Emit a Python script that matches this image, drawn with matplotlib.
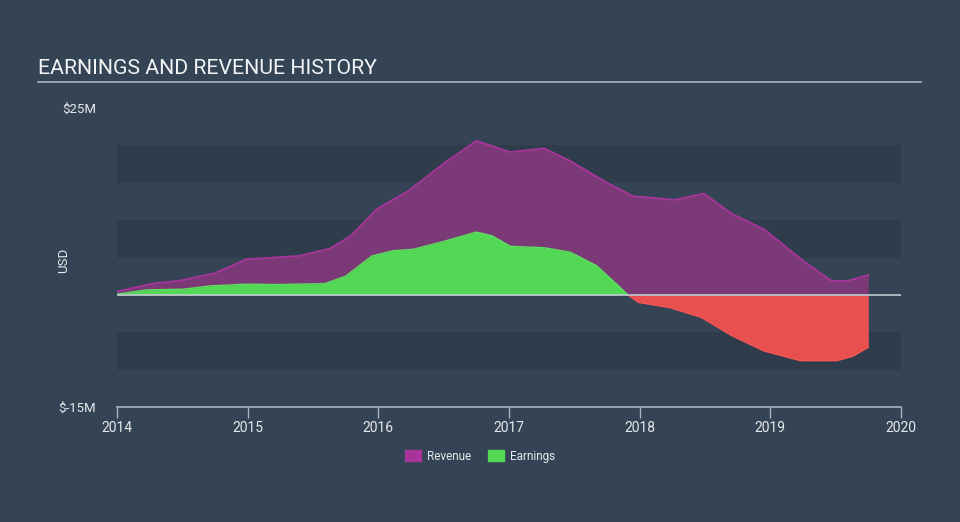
import matplotlib
matplotlib.use("Agg")
import matplotlib.pyplot as plt
import numpy as np
from matplotlib.patches import Patch

plt.rcParams['font.family'] = ['Roboto', 'DejaVu Sans']

# revenue, $M
rev_t = [2014.0, 2014.29, 2014.47, 2014.75, 2014.99, 2015.39, 2015.63, 2015.79, 2015.99,
         2016.23, 2016.51, 2016.75, 2017.01, 2017.27, 2017.47, 2017.75, 2017.95, 2018.27,
         2018.49, 2018.71, 2018.95, 2019.27, 2019.47, 2019.59, 2019.75]
rev_v = [0.45, 1.56, 1.87, 2.9, 4.77, 5.2, 6.2, 7.9, 11.5,
         13.9, 17.7, 20.6, 19.1, 19.6, 17.9, 15.0, 13.2, 12.7,
         13.55, 10.8, 8.8, 4.3, 1.87, 1.87, 2.67]

# earnings, $M
earn_t = [2014.0, 2014.23, 2014.51, 2014.71, 2014.99, 2015.23, 2015.59, 2015.75, 2015.95,
          2016.11, 2016.27, 2016.51, 2016.75, 2016.87, 2017.01, 2017.27, 2017.47, 2017.67,
          2017.81, 2017.91, 2017.99, 2018.23, 2018.47, 2018.71, 2018.95, 2019.23, 2019.51,
          2019.63, 2019.75]
earn_v = [0.1, 0.67, 0.76, 1.2, 1.43, 1.38, 1.5, 2.5, 5.2,
          5.9, 6.1, 7.2, 8.4, 7.9, 6.5, 6.3, 5.7, 3.9,
          1.65, 0.0, -1.0, -1.7, -3.0, -5.5, -7.5, -8.8, -8.8,
          -8.2, -7.0]

years = [2014, 2015, 2016, 2017, 2018, 2019, 2020]
bands = [(15, 20), (5, 10), (-10, -5)]

bg = '#344454'
fig = plt.figure(figsize=(9.6, 5.22), dpi=100)
fig.patch.set_facecolor(bg)
ax = fig.add_axes([117/960, 1 - 407/522, 784/960, 299/522])
ax.set_facecolor(bg)

for lo, hi in bands:
    ax.axhspan(lo, hi, color='#2e3c4b', lw=0, zorder=0)

rt = np.array(rev_t); rv = np.array(rev_v)
ax.fill_between(rt, 0, rv, color='#7b3a77', lw=0, zorder=1)
ax.plot(rt, rv, color='#a8359c', lw=1.3, zorder=2)

et = np.array(earn_t); ev = np.array(earn_v)
ax.fill_between(et, 0, ev, where=ev >= 0, interpolate=True, color='#52d855', lw=0, zorder=3)
ax.fill_between(et, 0, ev, where=ev <= 0, interpolate=True, color='#e84f4f', lw=0, zorder=3)
ax.plot(et, np.where(ev >= 0, ev, np.nan), color='#5ee05f', lw=1, zorder=4)
ax.plot(et, np.where(ev <= 0, ev, np.nan), color='#f05555', lw=1, zorder=4)

ax.axhline(0, color='#c3cad2', lw=1.2, zorder=5)

ax.set_xlim(2014, 2020)
ax.set_ylim(-15, 25)
for s in ['top', 'right', 'left']:
    ax.spines[s].set_visible(False)
ax.spines['bottom'].set_color('#a9b4bf')
ax.spines['bottom'].set_linewidth(1.2)
ax.set_xticks(years)
ax.set_xticklabels([str(y) for y in years], fontsize=10)
ax.tick_params(axis='x', colors='#a9b4bf', length=8, width=1, pad=2, labelcolor='#e6e9ec')
ax.set_yticks([-15, 25])
ax.set_yticklabels(['$-15M', '$25M'], color='#e6e9ec', fontsize=9.5)
ax.tick_params(axis='y', length=0, pad=15)
ax.set_ylabel('USD', color='#e6e9ec', fontsize=9.5)
ax.yaxis.set_label_coords(-0.06, 0.49)

fig.text(38/960, 1 - 68/522, 'EARNINGS AND REVENUE HISTORY', color='#f2f4f6',
         fontsize=15.3, va='center', ha='left')
fig.add_artist(plt.Line2D([38/960, 921/960], [1 - 82/522, 1 - 82/522],
                          color='#a9b4bf', lw=1.2))

handles = [Patch(color='#a8359c', label='Revenue'), Patch(color='#52d855', label='Earnings')]
leg = fig.legend(handles=handles, loc='center', bbox_to_anchor=(0.5, 1 - 456/522), ncol=2,
                 frameon=False, fontsize=8.5, handlelength=1.3, handleheight=1.0,
                 columnspacing=1.5, handletextpad=0.5)
for t in leg.get_texts():
    t.set_color('#e6e9ec')

fig.savefig('out.png', dpi=100, facecolor=bg)
